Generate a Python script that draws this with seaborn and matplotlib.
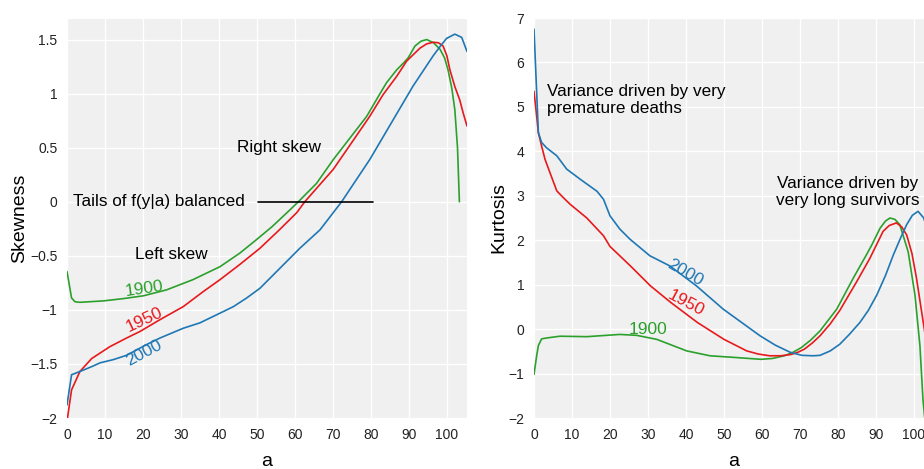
import matplotlib

matplotlib.use("Agg")

import matplotlib.pyplot as plt
import seaborn as sns


BG_COLOR = "#f0f0f0"
GREEN = "#2ca02c"
RED = "#e8191c"
BLUE = "#1f77b4"

# skewness by age
SKEW_AGE_1900 = [0, 1.2, 2.1, 3.4, 9.6, 15, 20.1, 26.2, 33.2, 40.3, 45.5, 49.9, 54, 58.7, 60.9, 65.7,
                 70.1, 74.5, 78.9, 82.4, 84.1, 86.8, 88.5, 89.8, 91.6, 93.2, 94.7, 96.5, 98.2, 99.4, 100.3,
                 101.3, 102.1, 102.8, 103.3]
SKEW_1900 = [-0.645, -0.89, -0.925, -0.93, -0.917, -0.895, -0.87, -0.815, -0.72, -0.6, -0.475, -0.35, -0.23, -0.075, 0.0, 0.17,
             0.39, 0.59, 0.79, 1.0, 1.1, 1.22, 1.28, 1.33, 1.44, 1.485, 1.5, 1.47, 1.41, 1.33, 1.22,
             1.05, 0.85, 0.5, 0.0]

SKEW_AGE_1950 = [0, 1.2, 3.4, 6.5, 11.3, 15.7, 19.2, 24.5, 30.6, 35.9, 40.3, 45.5, 50.8, 55.9, 60.5, 62.6,
                 70.1, 75.4, 79.7, 83.2, 86.8, 89.4, 92.9, 94.7, 96.4, 97.8, 99, 100, 100.8, 102.1, 103.4,
                 104.3, 105.3]
SKEW_1950 = [-2.03, -1.74, -1.57, -1.45, -1.34, -1.26, -1.2, -1.09, -0.97, -0.83, -0.72, -0.58, -0.43, -0.26, -0.1, 0.0,
             0.3, 0.57, 0.79, 0.99, 1.16, 1.3, 1.42, 1.46, 1.475, 1.47, 1.44, 1.35, 1.22, 1.065, 0.94,
             0.82, 0.7]

SKEW_AGE_2000 = [0, 1.2, 3.4, 6.5, 8.7, 12.2, 15.7, 21, 24.5, 30.6, 35, 40.3, 43.8, 47.3, 50.8, 55.2, 61.3, 66.6,
                 72.3, 79.7, 85.9, 91.1, 96.4, 98.2, 99.9, 102.1, 103.9, 105.3]
SKEW_2000 = [-1.88, -1.6, -1.57, -1.525, -1.49, -1.46, -1.42, -1.32, -1.26, -1.17, -1.12, -1.03, -0.97, -0.89, -0.8, -0.645, -0.43, -0.26,
             0.0, 0.39, 0.76, 1.07, 1.35, 1.435, 1.51, 1.55, 1.52, 1.39]

# kurtosis by age
KURT_AGE_1900 = [0, 0.7, 1.15, 2, 3.3, 6.8, 13.9, 22.6, 27, 32.3, 40.2, 46.3, 53.3, 56.5, 59.8, 62.8, 65.9, 68,
                 70.3, 72.8, 75.3, 79.7, 84, 87.5, 88.9, 91.1, 92.5, 93.7, 95, 96.3, 98.5, 100.3, 101.6, 102.4, 103.2]
KURT_1900 = [-1.02, -0.6, -0.37, -0.22, -0.2, -0.16, -0.17, -0.12, -0.14, -0.23, -0.49, -0.6, -0.64, -0.66, -0.68, -0.66, -0.6, -0.53,
             -0.42, -0.25, -0.04, 0.45, 1.14, 1.67, 1.89, 2.27, 2.43, 2.5, 2.47, 2.35, 1.74, 0.76, -0.38, -1.59, -2.3]

KURT_AGE_1950 = [0, 0.7, 1.15, 2, 2.9, 4.2, 6, 7.7, 9.5, 13.9, 18.3, 20, 25.4, 30.7, 36, 43, 50, 56, 59, 62, 65,
                 67.7, 69.5, 71.2, 73.3, 75.3, 78, 80.5, 84.9, 88.4, 91.9, 93.5, 95.4, 96.8, 98.1, 99.5, 100.7,
                 102.6, 104, 105.3]
KURT_1950 = [5.35, 4.79, 4.42, 4.12, 3.82, 3.52, 3.11, 2.96, 2.81, 2.5, 2.1, 1.86, 1.42, 0.97, 0.6, 0.15, -0.23, -0.49, -0.56, -0.6, -0.6,
             -0.57, -0.52, -0.45, -0.31, -0.15, 0.12, 0.42, 1.06, 1.59, 2.2, 2.33, 2.39, 2.3, 2.12, 1.7, 1.14,
             0.08, -0.7, -1.5]

KURT_AGE_2000 = [0, 1.15, 2, 3.3, 6, 8.6, 12.2, 16.6, 18.3, 20, 22.6, 25.3, 30.5, 35.8, 42.8, 49.8, 59.5, 63.5, 67.4,
                 70.5, 73.5, 75.3, 78, 80.5, 83, 85.8, 88, 90.2, 92.5, 94.6, 96.5, 98.1, 99.6, 101.1, 102.6, 104, 105.3]
KURT_2000 = [6.75, 4.42, 4.2, 4.08, 3.9, 3.6, 3.37, 3.1, 2.92, 2.55, 2.25, 2.02, 1.65, 1.42, 0.97, 0.45, -0.15, -0.36, -0.52,
             -0.59, -0.6, -0.59, -0.49, -0.34, -0.12, 0.15, 0.42, 0.76, 1.2, 1.67, 2.05, 2.35, 2.56, 2.65, 2.5, 2.1, 1.5]

X_TICKS = list(range(0, 101, 10))
SKEW_TICKS = [-2, -1.5, -1, -0.5, 0, 0.5, 1, 1.5]
SKEW_TICK_LABELS = ["\u22122", "\u22121.5", "\u22121", "\u22120.5", "0", "0.5", "1", "1.5"]
KURT_TICKS = list(range(-2, 8))

NOTE_SIZE = 12.3


def style_axes(ax):
    ax.set_facecolor(BG_COLOR)
    ax.grid(True, color="white", linewidth=1.0)
    ax.set_axisbelow(True)
    for spine in ax.spines.values():
        spine.set_visible(False)
    ax.tick_params(length=0, pad=7, labelsize=10, labelcolor="#222222")
    ax.set_xlim(0, 105.3)
    ax.set_xticks(X_TICKS)
    ax.set_xlabel("a", fontsize=14, labelpad=8, color="black")


def draw_skewness(ax):
    sns.lineplot(x=SKEW_AGE_1900, y=SKEW_1900, color=GREEN, linewidth=1.2, ax=ax)
    sns.lineplot(x=SKEW_AGE_1950, y=SKEW_1950, color=RED, linewidth=1.2, ax=ax)
    sns.lineplot(x=SKEW_AGE_2000, y=SKEW_2000, color=BLUE, linewidth=1.2, ax=ax)
    style_axes(ax)
    ax.set_ylim(-2, 1.69)
    ax.set_yticks(SKEW_TICKS)
    ax.set_yticklabels(SKEW_TICK_LABELS)
    ax.set_ylabel("Skewness", fontsize=14, labelpad=1, color="black")

    ax.plot([50.4, 80.5], [0, 0], color="black", linewidth=1.2)
    ax.text(1.6, 0, "Tails of f(y|a) balanced", fontsize=NOTE_SIZE, va="center", ha="left", color="black")
    ax.text(44.7, 0.505, "Right skew", fontsize=NOTE_SIZE, va="center", ha="left", color="black")
    ax.text(17.9, -0.49, "Left skew", fontsize=NOTE_SIZE, va="center", ha="left", color="black")

    ax.text(20.3, -0.81, "1900", color=GREEN, fontsize=12.5, rotation=8, ha="center", va="center")
    ax.text(20.3, -1.095, "1950", color=RED, fontsize=12.5, rotation=25, ha="center", va="center")
    ax.text(20.3, -1.40, "2000", color=BLUE, fontsize=12.5, rotation=28, ha="center", va="center")


def draw_kurtosis(ax):
    sns.lineplot(x=KURT_AGE_1900, y=KURT_1900, color=GREEN, linewidth=1.2, ax=ax)
    sns.lineplot(x=KURT_AGE_1950, y=KURT_1950, color=RED, linewidth=1.2, ax=ax)
    sns.lineplot(x=KURT_AGE_2000, y=KURT_2000, color=BLUE, linewidth=1.2, ax=ax)
    style_axes(ax)
    ax.set_ylim(-2, 7)
    ax.set_yticks(KURT_TICKS)
    ax.set_ylabel("Kurtosis", fontsize=14, labelpad=1, color="black")

    ax.text(3.4, 5.15, "Variance driven by very\npremature deaths", fontsize=NOTE_SIZE, va="center", ha="left",
            color="black")
    ax.text(82.6, 3.08, "Variance driven by\nvery long survivors", fontsize=NOTE_SIZE, va="center", ha="center",
            multialignment="center", color="black")

    ax.text(39.7, 1.27, "2000", color=BLUE, fontsize=12.5, rotation=-30, ha="center", va="center")
    ax.text(40.0, 0.58, "1950", color=RED, fontsize=12.5, rotation=-28, ha="center", va="center")
    ax.text(30.1, 0.0, "1900", color=GREEN, fontsize=12.5, rotation=0, ha="center", va="center")


def main():
    sns.set_theme(style="darkgrid")
    plt.rcParams["font.family"] = ["Liberation Sans", "DejaVu Sans"]

    fig = plt.figure(figsize=(9.24, 4.69), dpi=100)
    fig.patch.set_facecolor("white")
    ax_left = fig.add_axes([67 / 924, 51 / 469, 400 / 924, 399 / 469])
    ax_right = fig.add_axes([534 / 924, 51 / 469, 400 / 924, 400 / 469])

    draw_skewness(ax_left)
    draw_kurtosis(ax_right)

    fig.savefig("out.png", dpi=100)
    plt.close(fig)


if __name__ == "__main__":
    main()
